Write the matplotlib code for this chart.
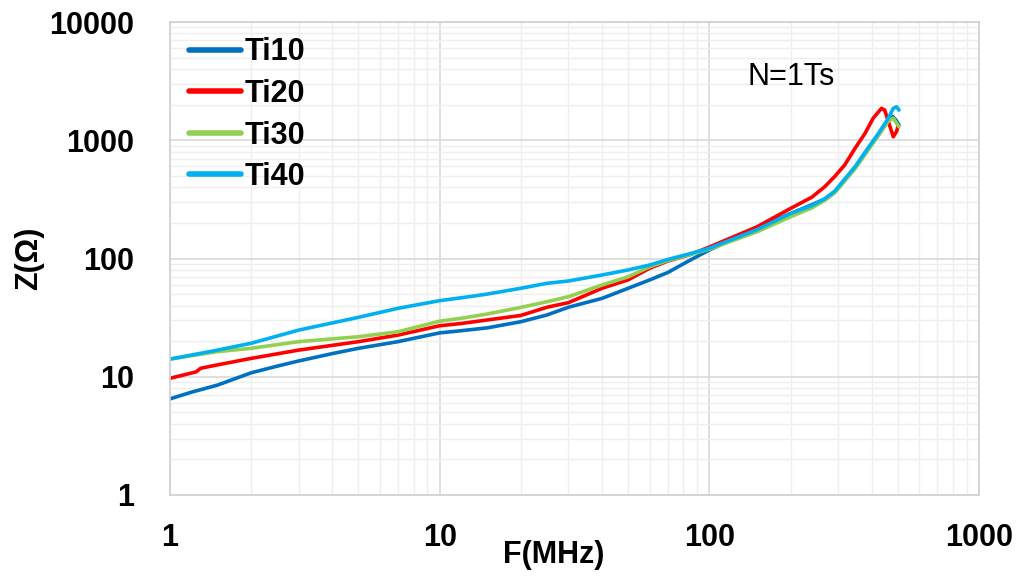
import matplotlib
matplotlib.use("Agg")
import matplotlib.pyplot as plt
from matplotlib.ticker import LogLocator, FixedLocator, NullFormatter

plt.rcParams['font.family'] = ['Liberation Sans', 'DejaVu Sans']

series_names = ["Ti10", "Ti20", "Ti30", "Ti40"]
colors = ["#0070C0", "#FF0000", "#92D050", "#00B0F0"]

f_ti10 = [1, 1.2, 1.5, 2, 2.5, 3, 4, 5, 7, 10, 12, 15, 20, 25, 30, 40, 50, 60, 70, 85, 100,
          150, 200, 240, 268, 292, 347, 387, 424, 461, 478, 490, 505]
z_ti10 = [6.5, 7.4, 8.5, 10.8, 12.3, 13.6, 15.7, 17.4, 19.8, 23.5, 24.5, 25.9, 29.2, 33.3, 38.7, 46, 56, 65.8, 76, 97, 118,
          181, 240, 285, 318, 365, 580, 830, 1110, 1480, 1590, 1500, 1350]

f_ti20 = [1, 1.25, 1.3, 1.5, 2, 3, 5, 7, 10, 12, 15, 20, 25, 30, 40, 50, 60, 70, 85, 100,
          150, 200, 240, 268, 292, 318, 347, 378, 405, 435, 447, 468, 481, 495, 500]
z_ti20 = [9.7, 11.0, 11.8, 12.6, 14.3, 16.8, 19.8, 22.5, 27, 28.2, 30.2, 33, 38.7, 42.3, 56, 66, 82.6, 95, 108, 125,
          185, 265, 330, 405, 495, 620, 855, 1145, 1535, 1862, 1800, 1300, 1070, 1190, 1300]

f_ti30 = [1, 1.5, 2, 3, 5, 7, 10, 12, 15, 20, 25, 30, 40, 50, 60, 70, 85, 100,
          150, 200, 240, 268, 292, 347, 387, 424, 461, 481, 492, 505]
z_ti30 = [14.1, 16.3, 17.4, 19.8, 21.8, 24, 29.5, 31.2, 33.9, 38.6, 43.1, 47.5, 59.7, 70, 85, 96, 108, 120,
          168, 225, 268, 310, 360, 575, 820, 1100, 1450, 1535, 1420, 1300]

f_ti40 = [1, 1.5, 2, 3, 5, 7, 10, 12, 15, 20, 25, 30, 40, 50, 60, 70, 85, 100,
          150, 200, 240, 268, 292, 347, 387, 424, 461, 481, 495, 505]
z_ti40 = [14.1, 16.8, 19.2, 24.8, 31.8, 37.9, 44, 46.5, 50, 56, 61.7, 64.5, 72.5, 80, 88, 98, 110, 122,
          175, 240, 280, 320, 372, 598, 855, 1145, 1535, 1860, 1920, 1800]

x_ticks = [1, 10, 100, 1000]
y_ticks = [1, 10, 100, 1000, 10000]

freqs = [f_ti10, f_ti20, f_ti30, f_ti40]
zs = [z_ti10, z_ti20, z_ti30, z_ti40]

fig = plt.figure(figsize=(10.23, 5.8), dpi=100)
ax = fig.add_axes([170/1023, 1-495/580, (979-170)/1023, (495-22)/580])

for name, c, f, z in zip(series_names, colors, freqs, zs):
    ax.plot(f, z, color=c, lw=2.6, label=name, solid_capstyle='round', solid_joinstyle='round')

ax.set_xscale('log')
ax.set_yscale('log')
ax.set_xlim(1, 1000)
ax.set_ylim(1, 10000)
ax.xaxis.set_major_locator(FixedLocator(x_ticks))
ax.yaxis.set_major_locator(FixedLocator(y_ticks))
ax.set_xticklabels([str(v) for v in x_ticks])
ax.set_yticklabels([str(v) for v in y_ticks])
ax.xaxis.set_minor_locator(LogLocator(base=10, subs=range(2, 10)))
ax.yaxis.set_minor_locator(LogLocator(base=10, subs=range(2, 10)))
ax.xaxis.set_minor_formatter(NullFormatter())
ax.yaxis.set_minor_formatter(NullFormatter())

ax.grid(which='major', color='#D9D9D9', lw=1.2)
ax.grid(which='minor', color='#EEEEEE', lw=1.0)
ax.set_axisbelow(True)
for s in ax.spines.values():
    s.set_color('#D0D0D0')
    s.set_linewidth(1.2)

ax.tick_params(which='both', length=0)
ax.tick_params(axis='y', pad=26, labelsize=22)
ax.tick_params(axis='x', pad=20, labelsize=22)
for lab in ax.get_xticklabels() + ax.get_yticklabels():
    lab.set_fontweight('bold')

ax.set_xlabel('F(MHz)', fontsize=22, fontweight='bold')
ax.xaxis.set_label_coords((554-170)/809, -0.095)
ax.set_ylabel('Z(Ω)', fontsize=22, fontweight='bold')
ax.yaxis.set_label_coords(-(170-29)/809, 0.5)
ax.yaxis.label.set_va('center')

fig.text(747/1023, 1-85/580, 'N=1Ts', fontsize=22, ha='left', va='baseline')

leg = ax.legend(loc='upper left', bbox_to_anchor=(4/809, 1.0), frameon=False,
                prop={'size': 22, 'weight': 'bold'}, handlelength=1.7,
                handletextpad=0.12, labelspacing=0.38, borderaxespad=0.1)
for h in leg.get_lines():
    h.set_linewidth(4)

fig.savefig('out.png', dpi=100)
